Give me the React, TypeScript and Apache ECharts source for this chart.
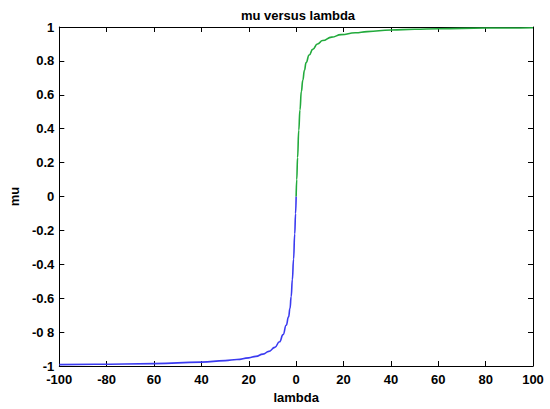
import React, { useEffect, useRef } from "react";
import * as echarts from "echarts";

const titleText = "mu versus lambda";
const xName = "lambda";
const yName = "mu";

const xTickLabels = ["-100", "-80", "60", "40", "20", "0", "20", "40", "60", "80", "100"];
const yTickLabels = ["-1", "-0 8", "-0.6", "-0.4", "-0.2", "0", "0.2", "0.4", "0.6", "0.8", "1"];

const negLambda = [-100, -85, -60, -40, -30, -25, -20, -17, -14, -11.5, -9, -7, -5.5, -4.2, -3.2, -2.6, -2.1, -1.6, -1.1, -0.6, -0.25, 0];
const negMu = [-0.992, -0.99, -0.986, -0.977, -0.968, -0.962, -0.952, -0.943, -0.93, -0.914, -0.89, -0.857, -0.815, -0.76, -0.71, -0.66, -0.59, -0.49, -0.37, -0.22, -0.1, 0];

const posLambda = [0, 0.25, 0.6, 1.1, 1.6, 2.2, 2.8, 3.5, 4.2, 5.5, 7, 9, 11.2, 15, 19, 25, 30, 40, 50, 60, 80, 100];
const posMu = [0, 0.1, 0.23, 0.39, 0.51, 0.62, 0.685, 0.745, 0.79, 0.835, 0.868, 0.9, 0.92, 0.94, 0.955, 0.966, 0.973, 0.982, 0.987, 0.99, 0.994, 0.996];

const FONT = "'Liberation Sans', Arial, sans-serif";

export default function App() {
  const ref = useRef<HTMLDivElement>(null);
  useEffect(() => {
    if (!ref.current) return;
    const chart = echarts.init(ref.current, undefined, { renderer: "svg" });
    const axisLine = { show: true, onZero: false, lineStyle: { color: "#000", width: 1 } };
    const tick = { show: true, inside: true, length: 5, lineStyle: { color: "#000", width: 1 } };
    const labelStyle = { fontFamily: FONT, fontSize: 13, fontWeight: "bold" as const, color: "#000" };
    chart.setOption({
      animation: false,
      backgroundColor: "#fff",
      title: {
        text: titleText,
        left: 293,
        top: 4,
        textAlign: "center",
        textStyle: { ...labelStyle },
      },
      grid: { left: 56, right: 17, top: 27, bottom: 41 },
      xAxis: [
        {
          type: "value",
          min: -100,
          max: 100,
          interval: 20,
          position: "bottom",
          axisLine,
          axisTick: tick,
          splitLine: { show: false },
          axisLabel: {
            ...labelStyle,
            margin: 7,
            formatter: (v: number) => xTickLabels[Math.round((v + 100) / 20)] ?? "",
          },
          name: xName,
          nameLocation: "middle",
          nameGap: 25,
          nameTextStyle: { ...labelStyle },
        },
        {
          type: "value",
          min: -100,
          max: 100,
          interval: 20,
          position: "top",
          axisLine,
          axisTick: tick,
          splitLine: { show: false },
          axisLabel: { show: false },
        },
      ],
      yAxis: [
        {
          type: "value",
          min: -1,
          max: 1,
          interval: 0.2,
          position: "left",
          axisLine,
          axisTick: tick,
          splitLine: { show: false },
          axisLabel: {
            ...labelStyle,
            margin: 5,
            formatter: (v: number) => yTickLabels[Math.round((v + 1) / 0.2)] ?? "",
          },
          name: yName,
          nameLocation: "middle",
          nameGap: 37,
          nameTextStyle: { ...labelStyle },
        },
        {
          type: "value",
          min: -1,
          max: 1,
          interval: 0.2,
          position: "right",
          axisLine,
          axisTick: tick,
          splitLine: { show: false },
          axisLabel: { show: false },
        },
      ],
      series: [
        {
          type: "line",
          data: negLambda.map((x, i) => [x, negMu[i]]),
          showSymbol: false,
          smooth: 0.5,
          smoothMonotone: "x",
          lineStyle: { color: "#3b3bf0", width: 1.6 },
          z: 3,
        },
        {
          type: "line",
          data: posLambda.map((x, i) => [x, posMu[i]]),
          showSymbol: false,
          smooth: 0.5,
          smoothMonotone: "x",
          lineStyle: { color: "#22aa3c", width: 1.6 },
          z: 3,
        },
      ],
    });
    return () => chart.dispose();
  }, []);
  return (
    <div
      ref={ref}
      style={{ position: "fixed", left: 0, top: 0, width: 550, height: 409, background: "#fff" }}
    />
  );
}
